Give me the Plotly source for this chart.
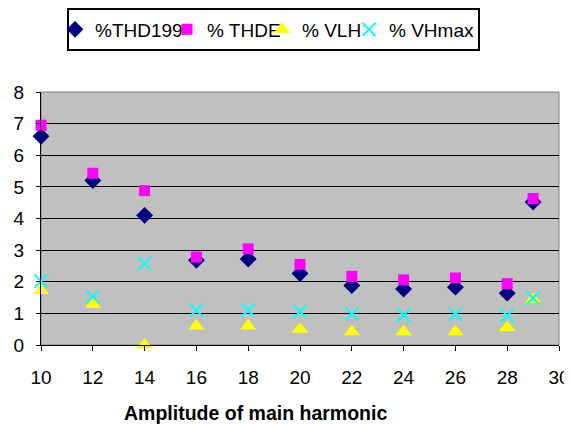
import plotly.graph_objects as go

x_vals = [10, 12, 14, 16, 18, 20, 22, 24, 26, 28, 29]
thd199 = [6.6, 5.2, 4.1, 2.68, 2.72, 2.26, 1.88, 1.77, 1.83, 1.64, 4.52]
thde = [6.95, 5.43, 4.88, 2.78, 3.04, 2.55, 2.17, 2.06, 2.12, 1.94, 4.63]
vlh = [1.72, 1.28, 0.0, 0.6, 0.6, 0.5, 0.42, 0.42, 0.42, 0.55, 1.45]
vhmax = [2.02, 1.53, 2.58, 1.1, 1.1, 1.05, 0.98, 0.94, 0.97, 0.93, 1.48]

series_names = ["%THD199", "% THDE", "% VLH", "% VHmax"]
x_ticks = [10, 12, 14, 16, 18, 20, 22, 24, 26, 28, 30]
y_ticks = [0, 1, 2, 3, 4, 5, 6, 7, 8]

font = "Arial, 'Liberation Sans', sans-serif"

# page is offset by the browser's 8px body margin; figure sized to fit window
W, H = 564, 417
ML, MR, MT, MB = 33, 13, 84, 80
PW, PH = W - ML - MR, H - MT - MB


def px(page_x):
    return (page_x - 8 - ML) / PW


def py(page_y):
    return (MT + PH - (page_y - 8)) / PH


fig = go.Figure()
fig.add_trace(go.Scatter(x=x_vals, y=thd199, mode="markers", name=series_names[0], legend="legend",
                         marker=dict(symbol="diamond", color="#000080", size=13), cliponaxis=False))
fig.add_trace(go.Scatter(x=x_vals, y=thde, mode="markers", name=series_names[1], legend="legend2",
                         marker=dict(symbol="square", color="#FF00FF", size=11), cliponaxis=False))
fig.add_trace(go.Scatter(x=x_vals, y=vlh, mode="markers", name=series_names[2], legend="legend3",
                         marker=dict(symbol="triangle-up", color="#FFFF00", size=14), cliponaxis=False))
fig.add_trace(go.Scatter(x=x_vals, y=vhmax, mode="markers", name=series_names[3], legend="legend4",
                         marker=dict(symbol="x-thin", color="#00FFFF", size=13,
                                     line=dict(color="#00FFFF", width=2)), cliponaxis=False))

leg_common = dict(orientation="h", xanchor="left", yanchor="middle", y=py(29.5),
                  borderwidth=0, bgcolor="rgba(0,0,0,0)", font=dict(size=19), itemwidth=30)
text_starts = [93, 205, 300, 387]

fig.update_layout(
    width=W, height=H,
    margin=dict(l=ML, r=MR, t=MT, b=MB, autoexpand=False),
    paper_bgcolor="white",
    plot_bgcolor="#C0C0C0",
    font=dict(family=font, size=19, color="black"),
    showlegend=True,
    legend=dict(x=px(text_starts[0] - 38), **leg_common),
    legend2=dict(x=px(text_starts[1] - 38), **leg_common),
    legend3=dict(x=px(text_starts[2] - 38), **leg_common),
    legend4=dict(x=px(text_starts[3] - 38), **leg_common),
    xaxis=dict(range=[10, 30], tickvals=x_ticks, showgrid=False, zeroline=False,
               showline=True, linecolor="black", linewidth=1,
               ticks="outside", ticklen=5, tickcolor="black", ticklabelstandoff=10),
    yaxis=dict(range=[0, 8], tickvals=y_ticks, showgrid=True, gridcolor="black", gridwidth=1,
               zeroline=False, showline=True, linecolor="black", linewidth=1,
               ticks="outside", ticklen=4, tickcolor="black", ticklabelstandoff=8),
    annotations=[
        dict(text="<b>Amplitude of main harmonic</b>", xref="paper", yref="paper",
             x=px(255.5), y=py(413), xanchor="center", yanchor="middle",
             showarrow=False, font=dict(size=19.5)),
    ],
    shapes=[
        dict(type="rect", xref="paper", yref="paper", x0=0, x1=1, y0=0, y1=1,
             line=dict(color="#808080", width=1), layer="below"),
        # legend frame
        dict(type="rect", xref="paper", yref="paper", x0=px(68), x1=px(479), y0=py(50), y1=py(9),
             line=dict(color="#000000", width=2), layer="above"),
    ],
)

fig.write_html("out.html")
